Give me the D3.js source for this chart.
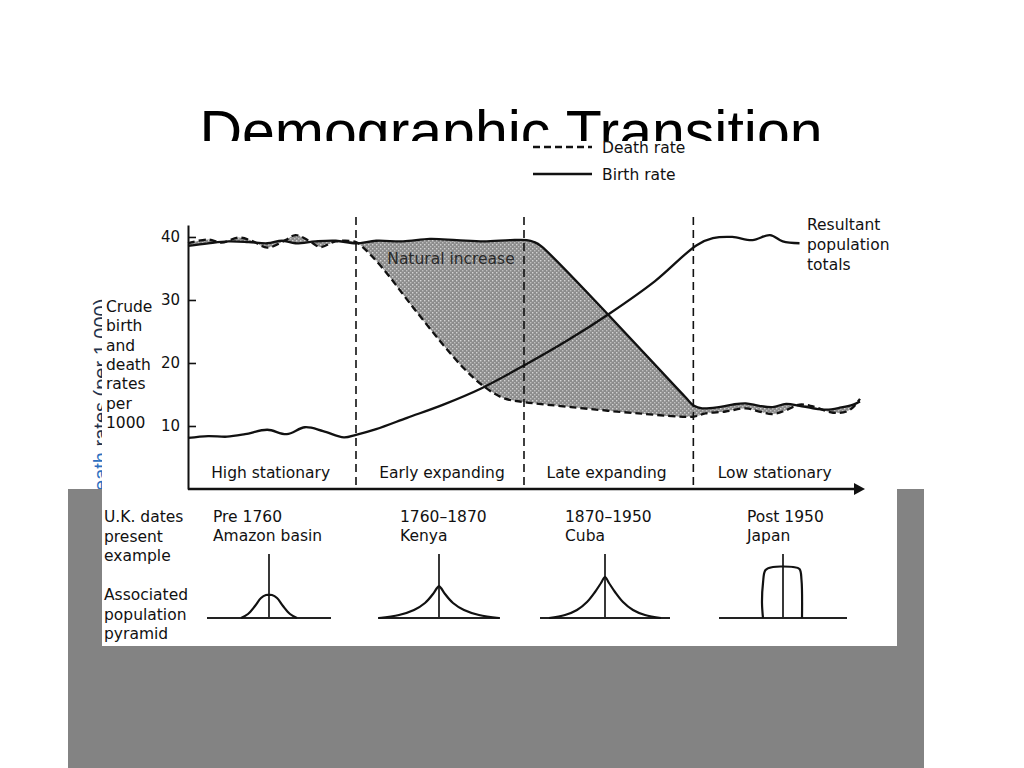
<!DOCTYPE html>
<html><head><meta charset="utf-8">
<script src="https://cdn.jsdelivr.net/npm/d3@7"></script>
<style>
html,body{margin:0;padding:0;background:#fff;}
svg{display:block;}
text{font-family:"DejaVu Sans","Open Sans",sans-serif;}
.lab{font-family:"DejaVu Sans",sans-serif;font-size:15.5px;fill:#111;}
</style></head>
<body>
<script>
// ---------- DATA ----------
const stageBoundaries = [25, 50, 75.2];
const stageNames = ["High stationary", "Early expanding", "Late expanding", "Low stationary"];
const stageCenters = [12.3, 37.8, 62.3, 87.3];
const yTicks = [10, 20, 30, 40];

// birth rate (solid) : [time index, rate per 1000]
const birthRate = [[0,38.6],[3,39.0],[6,39.3],[9,39.2],[11.8,39.0],[14,39.4],[16,39.0],[19,39.3],[22,39.4],[25,39.0],
  [28,39.4],[32,39.3],[36,39.7],[40,39.5],[44,39.3],[48,39.5],[50.4,39.5],[51.5,39.2],[52.6,38.5],
  [74,14.6],[75.3,13.2],[76.5,12.8],[79,13.0],[81,13.4],[83,13.6],[85,13.2],[87,13.0],[89,13.5],
  [91,13.2],[93,12.8],[95,12.6],[97,12.9],[99,13.4],[100,13.9]];
// death rate (dashed)
const deathRate = [[0,39.0],[3,39.6],[5,39.1],[7.5,39.9],[9.5,39.4],[11.8,38.3],[14.5,39.5],[16,40.3],[18,39.4],[19.7,38.4],[22,39.3],[25,39.2],
  [26,38.4],[29,35.0],[33,29.5],[37.5,23.5],[41,19.2],[44,16.3],[47,14.4],[50,13.8],
  [57,13.0],[67,12.0],[75.3,11.5],[77,12.0],[80,12.3],[83,12.8],[85,12.3],[87,11.9],[89,12.5],
  [91,13.4],[93,13.1],[96,12.1],[98,12.3],[99,13.0],[100,14.3]];
// resultant population totals (solid)
const population = [[0,8.1],[3,8.4],[5.8,8.3],[8.5,8.7],[11.8,9.4],[14.7,8.7],[17.4,9.8],[20.1,9.2],[23.2,8.2],[25,8.6],
  [28,9.5],[32.6,11.3],[38,13.4],[43.7,16.0],[50,19.6],[56.5,23.6],[62.8,27.9],[69.5,33.0],
  [75.7,38.7],[78.1,39.8],[81,40.0],[84,39.5],[86.6,40.3],[88.5,39.3],[91,39.0]];

const ukDates = ["Pre 1760", "1760\u20131870", "1870\u20131950", "Post 1950"];
const examples = ["Amazon basin", "Kenya", "Cuba", "Japan"];
const rowLabel1 = ["U.K. dates", "present", "example"];
const rowLabel2 = ["Associated", "population", "pyramid"];
const yLabelLines = ["Crude", "birth", "and", "death", "rates", "per", "1000"];
const totalsLabel = ["Resultant", "population", "totals"];

// pyramid profiles: [half-width offset, height]
const pyramidShapes = [
  [[-28,0],[-21,4],[-14,12],[-8,20],[-3,23],[0,23.2],[3,23],[8,20],[14,12],[21,4],[28,0]],
  [[-60,0],[-40,3],[-25,8],[-14,15],[-6,24],[-2,30],[0,32],[2,30],[6,24],[14,15],[25,8],[40,3],[60,0]],
  [[-56,0],[-40,3],[-28,8],[-18,16],[-10,26],[-4,35],[0,41],[4,35],[10,26],[18,16],[28,8],[40,3],[56,0]],
  [[-20,0],[-21,15],[-20,35],[-17.5,48],[-10,51],[0,51.5],[10,51],[16.5,49],[18.5,38],[19,0]]
];
const pyramidCenters = [269, 439, 605, 783];
const pyramidBaseHalf = [62, 61, 65, 64];

// ---------- DRAW ----------
const W = 1024, H = 768;
const svg = d3.select("body").append("svg").attr("width", W).attr("height", H);
const defs = svg.append("defs");
defs.append("clipPath").attr("id", "titleClip").append("rect")
  .attr("x", 0).attr("y", 0).attr("width", W).attr("height", 141);

// slide title (partly hidden by picture)
svg.append("text").attr("x", 511).attr("y", 152).attr("text-anchor", "middle")
  .attr("clip-path", "url(#titleClip)")
  .style("font-family", "'Liberation Sans', Arial, sans-serif").style("font-size", "59px")
  .attr("fill", "#000").text("Demographic Transition");

// rotated axis text behind picture
const rot = svg.append("text").attr("transform", "translate(108,402) rotate(-90)")
  .attr("text-anchor", "middle").style("font-family", "'Liberation Sans', Arial, sans-serif")
  .style("font-size", "20px");
rot.append("tspan").attr("fill", "#2d6fc0").text("Death ");
rot.append("tspan").attr("fill", "#24324a").text("rates (per 1,000)");

// grey slide block
svg.append("rect").attr("x", 68).attr("y", 489).attr("width", 856).attr("height", 279).attr("fill", "#838383");
// white picture
svg.append("rect").attr("x", 102).attr("y", 141).attr("width", 795).attr("height", 505).attr("fill", "#fff");

// pattern for fill
const pat = defs.append("pattern").attr("id", "stip").attr("patternUnits", "userSpaceOnUse")
  .attr("width", 4).attr("height", 4);
pat.append("rect").attr("width", 4).attr("height", 4).attr("fill", "#8c8c8c");
pat.append("rect").attr("x", 0).attr("y", 0).attr("width", 1.4).attr("height", 1.4).attr("fill", "#d4d4d4");
pat.append("rect").attr("x", 2).attr("y", 2).attr("width", 1.4).attr("height", 1.4).attr("fill", "#c0c0c0");

const x = d3.scaleLinear().domain([0, 100]).range([188, 860]);
const y = d3.scaleLinear().domain([0, 41.9]).range([489, 225]);

const line = d3.line().x(d => x(d[0])).y(d => y(d[1])).curve(d3.curveCatmullRom.alpha(0.5));

// natural increase fill
const fwd = line(birthRate);
const back = line(deathRate.slice().reverse()).replace(/^M/, "L");
svg.append("path").attr("d", fwd + back + "Z").attr("fill", "url(#stip)").attr("stroke", "none");

svg.append("text").attr("class", "lab").attr("x", 451).attr("y", 264).attr("text-anchor", "middle")
  .style("fill", "#2a2a2a").text("Natural increase");

// stage dividers
svg.selectAll(".div").data(stageBoundaries).enter().append("line")
  .attr("x1", d => x(d)).attr("x2", d => x(d)).attr("y1", 217).attr("y2", 489)
  .attr("stroke", "#111").attr("stroke-width", 1.6).attr("stroke-dasharray", "8,5");

// lines
svg.append("path").attr("d", line(deathRate)).attr("fill", "none").attr("stroke", "#111")
  .attr("stroke-width", 2.3).attr("stroke-dasharray", "7,4");
svg.append("path").attr("d", line(birthRate)).attr("fill", "none").attr("stroke", "#111").attr("stroke-width", 2.3);
svg.append("path").attr("d", line(population)).attr("fill", "none").attr("stroke", "#111").attr("stroke-width", 2.3);

// y axis
const yAxis = d3.axisLeft(y).tickValues(yTicks).tickSize(-8).tickSizeOuter(0).tickPadding(8);
const ga = svg.append("g").attr("transform", `translate(${x(0)},0)`).call(yAxis);
ga.select(".domain").attr("stroke", "#111").attr("stroke-width", 2);
ga.selectAll(".tick line").attr("stroke", "#111").attr("stroke-width", 1.6);
ga.selectAll(".tick text").style("font-size", "15px")
  .style("font-family", "'DejaVu Sans',sans-serif").attr("fill", "#111");

// x axis with arrow
svg.append("line").attr("x1", x(0)).attr("x2", 856).attr("y1", 489).attr("y2", 489)
  .attr("stroke", "#111").attr("stroke-width", 2.4);
svg.append("path").attr("d", `M854,483 L865,489 L854,495 Z`).attr("fill", "#111");

// stage names
svg.selectAll(".stg").data(stageNames).enter().append("text").attr("class", "lab")
  .attr("x", (d, i) => x(stageCenters[i])).attr("y", 478).attr("text-anchor", "middle").text(d => d);

// y label text block
svg.selectAll(".yl").data(yLabelLines).enter().append("text").attr("class", "lab")
  .attr("x", 106).attr("y", (d, i) => 312 + i * 19.3).text(d => d);

// totals label
svg.selectAll(".tl").data(totalsLabel).enter().append("text").attr("class", "lab")
  .attr("x", 807).attr("y", (d, i) => 230 + i * 20).text(d => d);

// legend
const leg = [["Death rate", "7,4", 147], ["Birth rate", null, 174]];
leg.forEach(l => {
  svg.append("line").attr("x1", 533).attr("x2", 592).attr("y1", l[2]).attr("y2", l[2])
    .attr("stroke", "#111").attr("stroke-width", 2.3).attr("stroke-dasharray", l[1]);
  svg.append("text").attr("class", "lab").attr("x", 602).attr("y", l[2] + 5.5).text(l[0]);
});

// bottom rows
svg.selectAll(".r1").data(rowLabel1).enter().append("text").attr("class", "lab")
  .attr("x", 104).attr("y", (d, i) => 522 + i * 19.5).text(d => d);
svg.selectAll(".r2").data(rowLabel2).enter().append("text").attr("class", "lab")
  .attr("x", 104).attr("y", (d, i) => 600 + i * 19.5).text(d => d);
const colX = [213, 400, 565, 747];
svg.selectAll(".ud").data(ukDates).enter().append("text").attr("class", "lab")
  .attr("x", (d, i) => colX[i]).attr("y", 522).text(d => d);
svg.selectAll(".ex").data(examples).enter().append("text").attr("class", "lab")
  .attr("x", (d, i) => colX[i]).attr("y", 541).text(d => d);

// pyramids
const pyBase = 618;
pyramidShapes.forEach((shape, i) => {
  const cx = pyramidCenters[i];
  const px = d3.scaleLinear().domain([-64, 64]).range([cx - 64, cx + 64]);
  const py = d3.scaleLinear().domain([0, 65]).range([pyBase, pyBase - 65]);
  const g = svg.append("g");
  g.append("line").attr("x1", px(-pyramidBaseHalf[i])).attr("x2", px(pyramidBaseHalf[i]))
    .attr("y1", py(0)).attr("y2", py(0)).attr("stroke", "#222").attr("stroke-width", 1.8);
  g.append("line").attr("x1", px(0)).attr("x2", px(0)).attr("y1", py(0)).attr("y2", py(64))
    .attr("stroke", "#222").attr("stroke-width", 1.8);
  const pl = d3.line().x(d => px(d[0])).y(d => py(d[1])).curve(d3.curveCatmullRom.alpha(0.5));
  g.append("path").attr("d", pl(shape)).attr("fill", "none").attr("stroke", "#111").attr("stroke-width", 2.2);
});
</script>
</body></html>
